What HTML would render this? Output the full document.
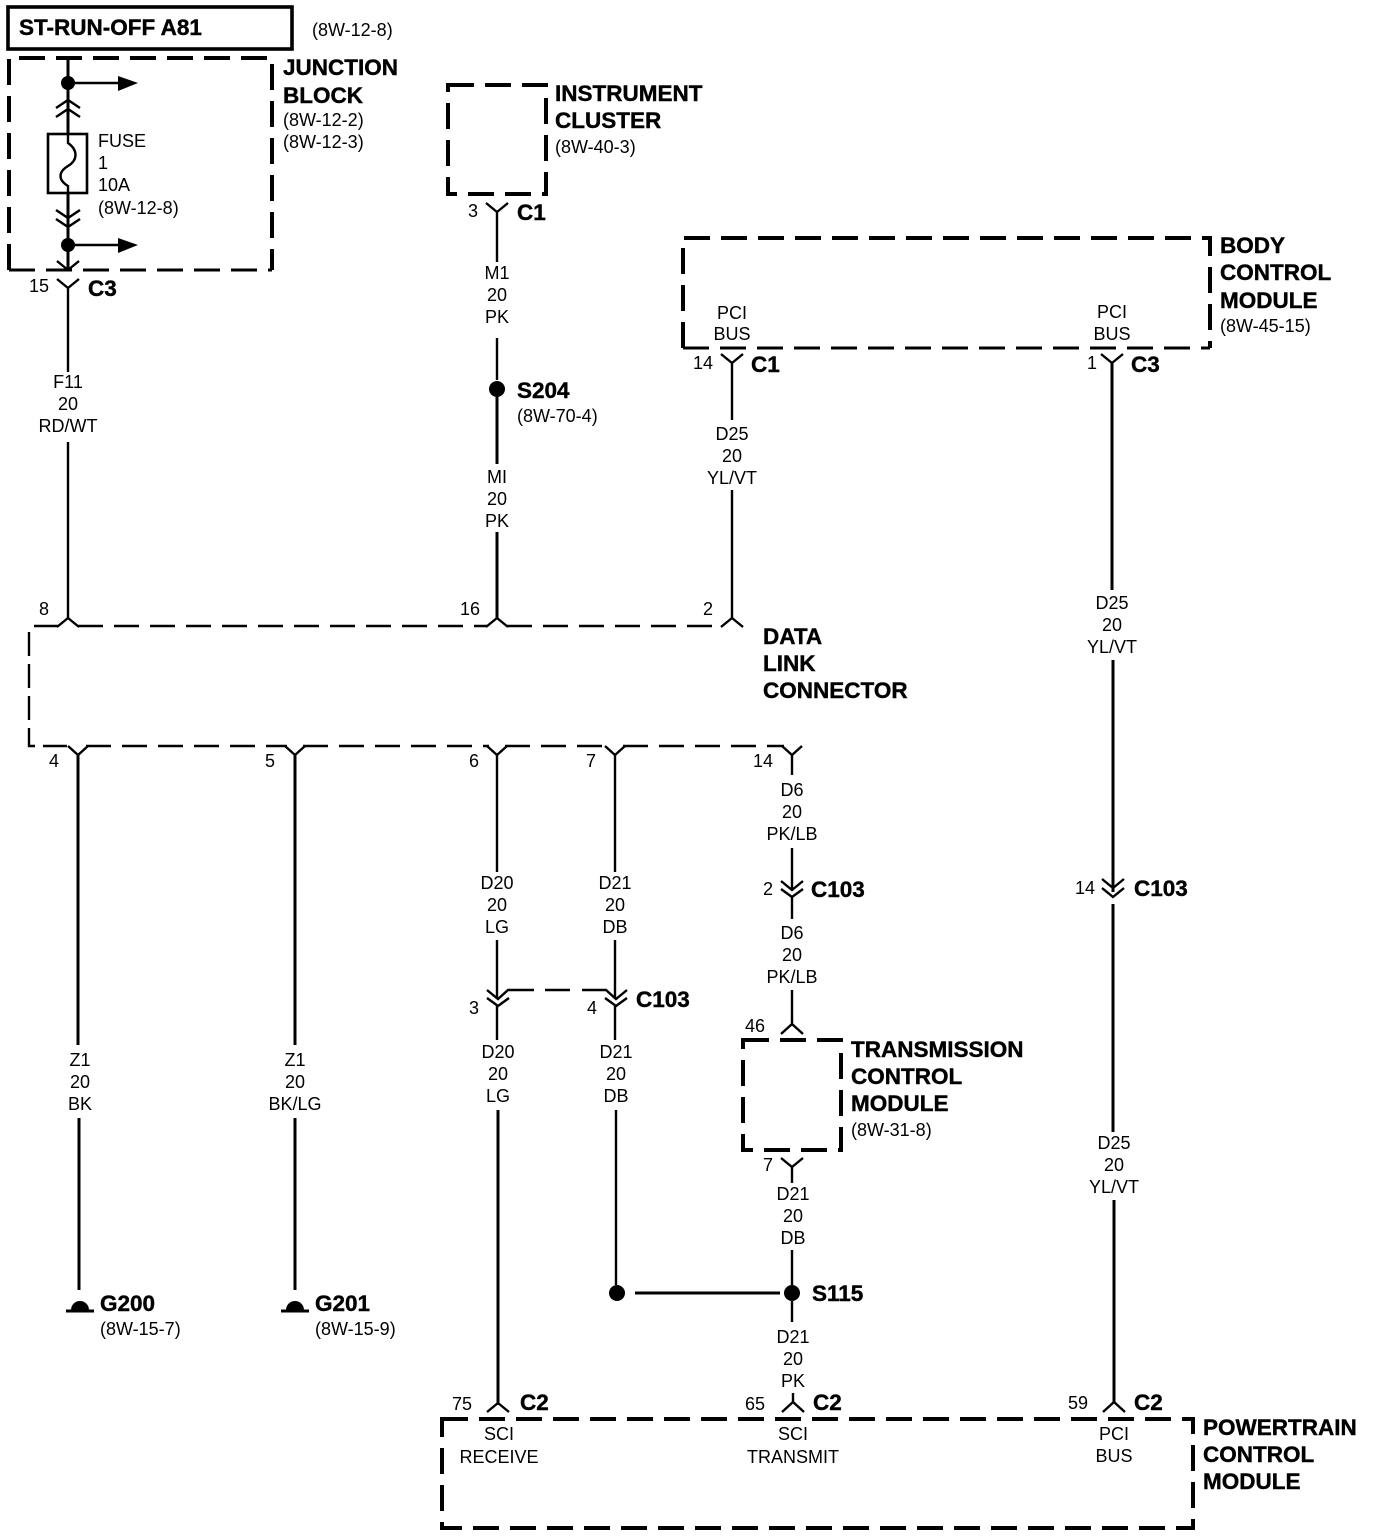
<!DOCTYPE html>
<html><head><meta charset="utf-8"><style>
html,body{margin:0;padding:0;background:#fff;width:1376px;height:1538px;overflow:hidden}
svg{display:block}
text{font-family:"Liberation Sans",sans-serif;fill:#000}
.s{font-size:18px}
.m{text-anchor:middle}
.b{font-size:22.5px;font-weight:bold;stroke:#000;stroke-width:.4px}
.w{fill:none;stroke:#000;stroke-width:2.4}
.t{fill:none;stroke:#000;stroke-width:3}
.d{fill:none;stroke:#000;stroke-width:4;stroke-dasharray:26 11}
.h{fill:none;stroke:#000;stroke-width:3;stroke-dasharray:26 11}
.dl{fill:none;stroke:#000;stroke-width:2.4;stroke-dasharray:25 11}
</style></head><body>
<svg width="1376" height="1538" viewBox="0 0 1376 1538" xmlns="http://www.w3.org/2000/svg">
<rect x="8" y="7" width="284" height="42" fill="none" stroke="#000" stroke-width="3.6"/>
<text x="19" y="35" class="b">ST-RUN-OFF A81</text>
<text x="312" y="36" class="s">(8W-12-8)</text>

<!-- dashed modules -->
<path class="d" d="M9 270V58H272V270"/>
<path class="h" d="M9 270H272"/>
<path class="d" d="M448 85H546V194H448Z"/>
<path class="d" d="M683 348V238H1210V348"/>
<path class="h" d="M683 348H1210"/>
<path class="d" d="M743 1040H841V1150H743Z"/>
<path class="d" d="M442 1419H1193V1528H442Z"/>

<!-- junction block -->
<path class="t" d="M68 58V134M68 193V270"/>
<circle cx="68" cy="83" r="7"/><circle cx="68" cy="245" r="7"/>
<path class="w" d="M68 83H120M68 245H120"/>
<path d="M118 76L138 83L118 91ZM118 238L138 245L118 253Z"/>
<path class="w" d="M56 108L68 100L80 108M56 117L68 109L80 117M56 210L68 218L80 210M56 219L68 227L80 219M57 261L68 270L79 261"/>
<rect x="48" y="134" width="39" height="59" fill="none" stroke="#000" stroke-width="2.6"/>
<path class="w" d="M68 134V143C78 150 78 160 68 166C58 172 58 180 68 186V193" fill="#fff"/>
<text x="98" y="147" class="s">FUSE</text><text x="98" y="169" class="s">1</text><text x="98" y="191" class="s">10A</text><text x="98" y="214" class="s">(8W-12-8)</text>
<text x="283" y="75" class="b">JUNCTION</text><text x="283" y="103" class="b">BLOCK</text>
<text x="283" y="126" class="s">(8W-12-2)</text><text x="283" y="148" class="s">(8W-12-3)</text>

<text x="29" y="292" class="s">15</text>
<path class="w" d="M57 279L68 288L79 279M68 288V372M68 442V618"/>
<text x="88" y="296" class="b">C3</text>
<text x="68" y="388" class="s m">F11</text><text x="68" y="410" class="s m">20</text><text x="68" y="432" class="s m">RD/WT</text>

<!-- instrument cluster -->
<text x="555" y="101" class="b">INSTRUMENT</text><text x="555" y="128" class="b">CLUSTER</text><text x="555" y="153" class="s">(8W-40-3)</text>
<text x="468" y="217" class="s">3</text><text x="517" y="220" class="b">C1</text>
<path class="w" d="M486 203L497 212L508 203M497 212V262M497 338V380"/>
<text x="497" y="279" class="s m">M1</text><text x="497" y="301" class="s m">20</text><text x="497" y="323" class="s m">PK</text>
<circle cx="497" cy="389" r="8"/>
<path class="t" d="M497 397V464M497 532V618"/>
<text x="517" y="398" class="b">S204</text><text x="517" y="422" class="s">(8W-70-4)</text>
<text x="497" y="483" class="s m">MI</text><text x="497" y="505" class="s m">20</text><text x="497" y="527" class="s m">PK</text>

<!-- BCM -->
<text x="1220" y="253" class="b">BODY</text><text x="1220" y="280" class="b">CONTROL</text><text x="1220" y="308" class="b">MODULE</text><text x="1220" y="332" class="s">(8W-45-15)</text>
<text x="732" y="319" class="s m">PCI</text><text x="732" y="340" class="s m">BUS</text>
<text x="1112" y="318" class="s m">PCI</text><text x="1112" y="340" class="s m">BUS</text>
<text x="693" y="369" class="s">14</text><text x="751" y="372" class="b">C1</text>
<text x="1087" y="369" class="s">1</text><text x="1131" y="372" class="b">C3</text>
<path class="w" d="M721 354L732 363L743 354M732 363V420M732 490V618M1101 354L1112 363L1123 354"/>
<path class="t" d="M1112 363V590M1113 660V892M1113 904V1132M1114 1200V1402"/>
<text x="732" y="440" class="s m">D25</text><text x="732" y="462" class="s m">20</text><text x="732" y="484" class="s m">YL/VT</text>
<text x="1112" y="609" class="s m">D25</text><text x="1112" y="631" class="s m">20</text><text x="1112" y="653" class="s m">YL/VT</text>
<text x="1114" y="1149" class="s m">D25</text><text x="1114" y="1171" class="s m">20</text><text x="1114" y="1193" class="s m">YL/VT</text>
<path class="w" d="M1102 879L1113 888L1124 879M1102 888L1113 897L1124 888"/>
<text x="1075" y="894" class="s">14</text><text x="1134" y="896" class="b">C103</text>

<!-- data link connector -->
<path class="dl" d="M34 626H58M78 626H487M507 626H722"/>
<path class="dl" d="M29 632V746H70" style="stroke-dasharray:24 8"/>
<path class="w" d="M57 627L68 618L79 627M486 627L497 618L508 627M721 627L732 618L743 627"/>
<path class="dl" d="M86 746H287M303 746H489M505 746H607M623 746H784"/>
<path class="w" d="M68 746L78 755L88 746M285 746L295 755L305 746M487 746L497 755L507 746M605 746L615 755L625 746M782 746L792 755L802 746"/>
<text x="39" y="615" class="s">8</text><text x="460" y="615" class="s">16</text><text x="703" y="615" class="s">2</text>
<text x="763" y="644" class="b">DATA</text><text x="763" y="671" class="b">LINK</text><text x="763" y="698" class="b">CONNECTOR</text>
<text x="49" y="767" class="s">4</text><text x="265" y="767" class="s">5</text><text x="469" y="767" class="s">6</text><text x="586" y="767" class="s">7</text><text x="753" y="767" class="s">14</text>

<!-- grounds -->
<path class="t" d="M78 755V1045M79 1118V1290M295 755V1045M295 1118V1290"/>
<text x="80" y="1066" class="s m">Z1</text><text x="80" y="1088" class="s m">20</text><text x="80" y="1110" class="s m">BK</text>
<text x="295" y="1066" class="s m">Z1</text><text x="295" y="1088" class="s m">20</text><text x="295" y="1110" class="s m">BK/LG</text>
<path d="M71 1310A9 9 0 0 1 89 1310ZM286 1310A9 9 0 0 1 304 1310Z"/>
<path class="t" d="M66 1311H94M281 1311H309"/>
<text x="100" y="1311" class="b">G200</text><text x="100" y="1335" class="s">(8W-15-7)</text>
<text x="315" y="1311" class="b">G201</text><text x="315" y="1335" class="s">(8W-15-9)</text>

<!-- D20 / D21 -->
<path class="w" d="M497 755V872M497 940V999M497 1006V1040M615 755V872M615 940V999M615 1006V1040M616 1110V1285"/>
<path class="t" d="M498 1110V1405"/>
<text x="497" y="889" class="s m">D20</text><text x="497" y="911" class="s m">20</text><text x="497" y="933" class="s m">LG</text>
<text x="615" y="889" class="s m">D21</text><text x="615" y="911" class="s m">20</text><text x="615" y="933" class="s m">DB</text>
<path class="w" d="M487 990L498 999L508 990H534M545 990H570M582 990H606L616 999L627 990M487 998L498 1006L509 998M605 998L616 1006L627 998"/>
<text x="469" y="1014" class="s">3</text><text x="587" y="1014" class="s">4</text><text x="636" y="1007" class="b">C103</text>
<text x="498" y="1058" class="s m">D20</text><text x="498" y="1080" class="s m">20</text><text x="498" y="1102" class="s m">LG</text>
<text x="616" y="1058" class="s m">D21</text><text x="616" y="1080" class="s m">20</text><text x="616" y="1102" class="s m">DB</text>
<circle cx="617" cy="1293" r="8"/><circle cx="792" cy="1293" r="8"/>
<path class="t" d="M635 1293H780"/>
<text x="812" y="1301" class="b">S115</text>

<!-- D6 -->
<path class="w" d="M792 755V775M792 848V890M792 897V919M792 990V1024M781 1034L792 1024L803 1034M781 881L792 890L803 881M781 889L792 897L803 889"/>
<text x="792" y="796" class="s m">D6</text><text x="792" y="818" class="s m">20</text><text x="792" y="840" class="s m">PK/LB</text>
<text x="763" y="895" class="s">2</text><text x="811" y="897" class="b">C103</text>
<text x="792" y="939" class="s m">D6</text><text x="792" y="961" class="s m">20</text><text x="792" y="983" class="s m">PK/LB</text>
<text x="745" y="1032" class="s">46</text>

<!-- TCM -->
<text x="851" y="1057" class="b">TRANSMISSION</text><text x="851" y="1084" class="b">CONTROL</text><text x="851" y="1111" class="b">MODULE</text><text x="851" y="1136" class="s">(8W-31-8)</text>
<path class="w" d="M781 1158L792 1167L803 1158M792 1167V1183M792 1250V1285M792 1301V1322"/>
<text x="763" y="1171" class="s">7</text>
<text x="793" y="1200" class="s m">D21</text><text x="793" y="1222" class="s m">20</text><text x="793" y="1244" class="s m">DB</text>
<text x="793" y="1343" class="s m">D21</text><text x="793" y="1365" class="s m">20</text><text x="793" y="1387" class="s m">PK</text>

<!-- PCM -->
<path class="w" d="M487 1412L498 1403L509 1412M782 1412L793 1402L804 1412M793 1402V1393M1103 1412L1114 1402L1125 1412"/>
<text x="452" y="1410" class="s">75</text><text x="520" y="1410" class="b">C2</text>
<text x="745" y="1410" class="s">65</text><text x="813" y="1410" class="b">C2</text>
<text x="1068" y="1409" class="s">59</text><text x="1134" y="1410" class="b">C2</text>
<text x="499" y="1440" class="s m">SCI</text><text x="499" y="1463" class="s m">RECEIVE</text>
<text x="793" y="1440" class="s m">SCI</text><text x="793" y="1463" class="s m">TRANSMIT</text>
<text x="1114" y="1440" class="s m">PCI</text><text x="1114" y="1462" class="s m">BUS</text>
<text x="1203" y="1435" class="b">POWERTRAIN</text><text x="1203" y="1462" class="b">CONTROL</text><text x="1203" y="1489" class="b">MODULE</text>
</svg>
</body></html>
